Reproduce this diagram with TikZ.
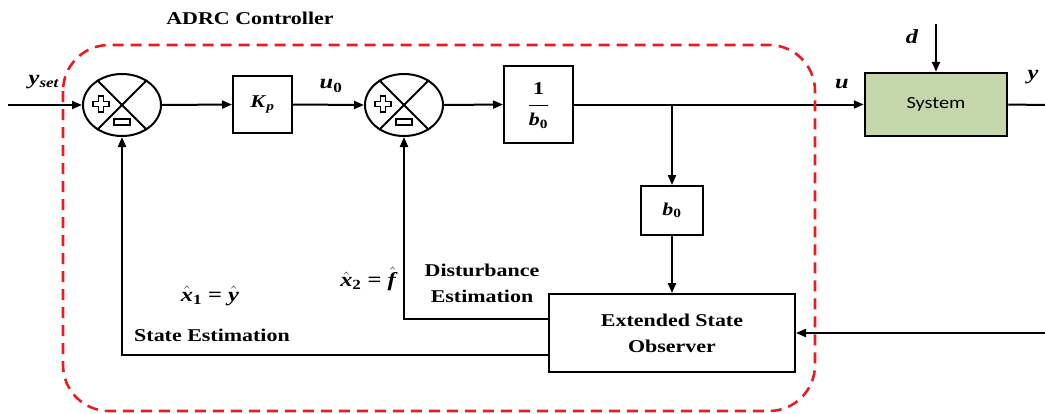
\documentclass[tikz,border=0pt]{standalone}
\usepackage{amsmath}
\usepackage{fontspec}
\setmainfont{Liberation Serif}[FakeStretch=1.22]
\newfontfamily\sysfont{Carlito}[FakeStretch=1.2]
\usetikzlibrary{shapes.geometric,arrows.meta}
\definecolor{adrcred}{RGB}{230,30,35}
\definecolor{sysgreen}{RGB}{196,215,170}
\newcommand{\vb}[1]{\textbf{\textit{#1}}}
\newcommand{\hvb}[1]{\ensuremath{\hat{\text{\vb{#1}}}}}
\tikzset{
  sumsigns/.pic={
    \draw[line width=1.3pt] (-23.5,-3.5) -- (-23.5,-9) -- (-18.5,-9) -- (-18.5,-3.5) -- (-13,-3.5) -- (-13,1.5)
      -- (-18.5,1.5) -- (-18.5,7) -- (-23.5,7) -- (-23.5,1.5) -- (-29,1.5) -- (-29,-3.5) -- cycle;
    \draw[line width=1.3pt] (-8,14) rectangle (8,20);
  }
}
\begin{document}
\begin{tikzpicture}[x=1pt,y=-1pt,line width=2pt,
  every node/.style={font=\fontsize{18}{26}\selectfont\bfseries, inner sep=0pt},
  blk/.style={draw, line width=2pt, rectangle, inner sep=0pt, align=center},
  sumnode/.style={draw, ellipse, minimum width=78pt, minimum height=62pt, inner sep=0pt, line width=2pt},
  arr/.style={-{Triangle[length=10pt,width=8pt]}, line width=2pt},
  lbl/.style={align=center, inner sep=0pt},
  mlbl/.style={align=center, inner sep=0pt, font=\fontsize{20}{24}\selectfont\bfseries},
  boundary/.style={draw=adrcred, line width=2.6pt, dash pattern=on 11pt off 7pt, rounded corners=46pt}
]
\useasboundingbox (0,0) rectangle (1045,413);

% nodes
\node[sumnode] (s1) at (122,105) {};
\node[sumnode] (s2) at (404,105) {};
\node[blk, minimum width=59pt, minimum height=57pt] (kp) at (262.5,104.5) {\vb{K}\textsubscript{\vb{p}}};
\node[blk, minimum width=69pt, minimum height=77pt] (inv) at (538.5,104.5)
  {\setlength{\arrayrulewidth}{1.6pt}\renewcommand{\arraystretch}{1.05}\begin{tabular}{@{}c@{}}\textbf{1}\\[2pt]\hline\rule{0pt}{18pt}\vb{b}\textsubscript{\textbf{0}}\end{tabular}};
\node[blk, minimum width=62pt, minimum height=49pt] (b0) at (672,210.5) {\vb{b}\textsubscript{\textbf{0}}};
\node[blk, minimum width=246pt, minimum height=78pt] (eso) at (672,333) {Extended State\\Observer};
\node[blk, fill=sysgreen, line width=2.5pt, minimum width=142pt, minimum height=63pt,
  font=\sysfont\fontsize{17}{20}\selectfont] (sys) at (936,104.5) {System};

% sum junction details
\foreach \s in {s1,s2}{
  \draw[line width=2pt] (\s.45) -- (\s.225);
  \draw[line width=2pt] (\s.135) -- (\s.315);
  \pic at (\s.center) {sumsigns};
}

% coordinates
\coordinate (in) at (8,105);
\coordinate (out) at (1045,105);
\coordinate (din) at (936,24);
\coordinate (yin) at (1045,333);
\coordinate (br) at (b0.north |- inv.east);

% connectors
\draw[arr] (in) -- (s1.west);
\draw[arr] (s1.east) -- (kp.west);
\draw[arr] (kp.east) -- (s2.west);
\draw[arr] (s2.east) -- (inv.west);
\draw[arr] (inv.east) -- (sys.west);
\draw[arr] (br) -- (b0.north);
\draw[arr] (b0.south) -- (eso.north);
\draw[arr] (din) -- (sys.north);
\draw (sys.east) -- (out);
\draw[arr] (yin) -- (eso.east);
\draw[arr] (eso.west |- 0,319) -| (s2.south);
\draw[arr] (eso.west |- 0,355) -| (s1.south);

% labels
\node[lbl] (title) at (250,18) {ADRC Controller};
\node[mlbl] (lyset) at (44,82) {\vb{y}\textsubscript{\vb{set}}};
\node[mlbl] (lu0) at (331,86) {\vb{u}\textsubscript{\textbf{0}}};
\node[mlbl] (lu) at (842,84) {\vb{u}};
\node[mlbl] (ld) at (912,37) {\vb{d}};
\node[mlbl] (ly) at (1033,77) {\vb{y}};
\node[mlbl] (lx1) at (210,296) {\hvb{x}\textsubscript{\textbf{1}} = \hvb{y}};
\node[lbl] (lse) at (212,335) {State Estimation};
\node[mlbl] (lx2) at (369,279) {\hvb{x}\textsubscript{\textbf{2}} = \hvb{f}};
\node[lbl] (lde) at (482,283.5) {Disturbance\\Estimation};

% controller boundary
\draw[boundary] (63,45) rectangle (815,411);
\end{tikzpicture}
\end{document}
